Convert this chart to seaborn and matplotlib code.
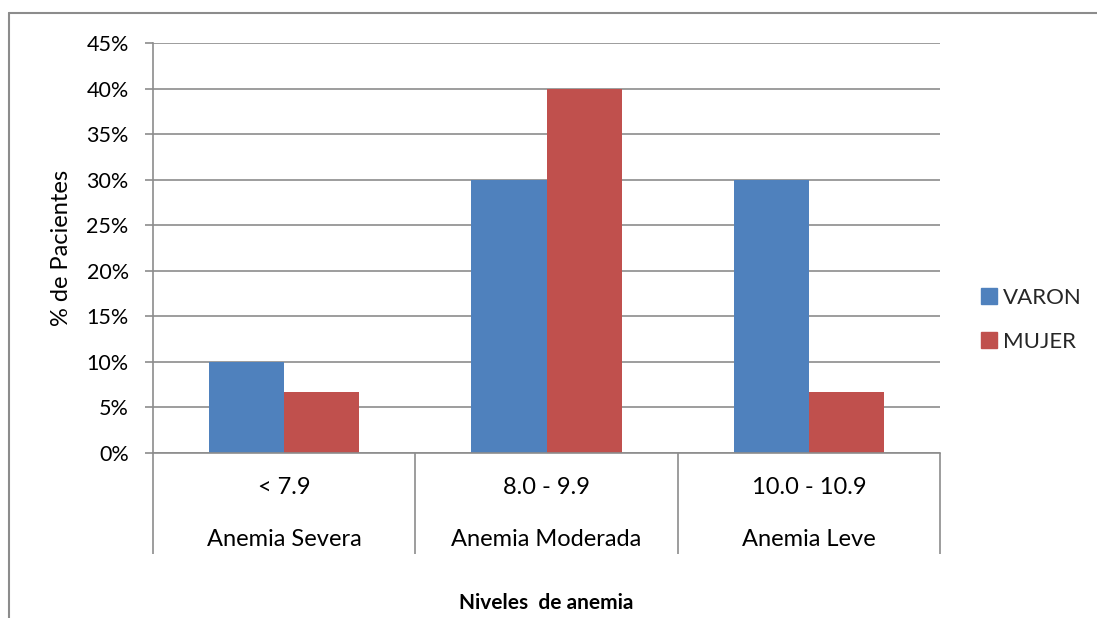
import matplotlib
matplotlib.use("Agg")
import matplotlib.pyplot as plt
import matplotlib.transforms as mtransforms
from matplotlib.lines import Line2D
import seaborn as sns
import pandas as pd

# Data
rangos = ["< 7.9", "8.0 - 9.9", "10.0 - 10.9"]
niveles = ["Anemia Severa", "Anemia Moderada", "Anemia Leve"]
series = ["VARON", "MUJER"]
varon = [10.0, 30.0, 30.0]
mujer = [6.67, 40.0, 6.67]
yticks = [0, 5, 10, 15, 20, 25, 30, 35, 40, 45]

colors = {"VARON": "#4F81BD", "MUJER": "#C0504D"}

df = pd.DataFrame({
    "cat": rangos * 2,
    "serie": ["VARON"] * 3 + ["MUJER"] * 3,
    "val": varon + mujer,
})

sns.set_theme(style="white")
plt.rcParams["font.family"] = ["Lato", "DejaVu Sans"]

W, H = 1097, 618
fig = plt.figure(figsize=(W / 100, H / 100), dpi=100)
ax = fig.add_axes([153 / W, 1 - 453 / H, (940 - 153) / W, (453 - 43) / H])

sns.barplot(data=df, x="cat", y="val", hue="serie", order=rangos,
            hue_order=series, palette=colors, width=0.572, gap=0,
            saturation=1, ax=ax, legend=False, edgecolor="none")

grid_c = "#8C8C8C"
fs = 17
ax.set_ylim(0, 45)
ax.set_xlim(-0.5, 2.5)
ax.set_yticks(yticks)
ax.set_yticklabels([f"{v}%" for v in yticks], fontsize=15.5, color="black")
ax.yaxis.grid(True, color=grid_c, linewidth=1.2)
ax.set_axisbelow(True)
for s in ["top", "right"]:
    ax.spines[s].set_visible(False)
for s in ["left", "bottom"]:
    ax.spines[s].set_color(grid_c)
    ax.spines[s].set_linewidth(1.2)
ax.tick_params(axis="y", which="major", left=True, length=5.5, width=1.2,
               color=grid_c, pad=12)

# x axis: separators as minor ticks
ax.set_xticks([])
ax.set_xticks([-0.5, 0.5, 1.5, 2.5], minor=True)
ax.tick_params(axis="x", which="minor", bottom=True, length=73, width=1.2,
               color=grid_c)
ax.set_xlabel("")
ax.set_ylabel("% de Pacientes", fontsize=fs, color="black")
ax.yaxis.set_label_coords((72 - 153) / (940 - 153), 0.5)

trans = mtransforms.blended_transform_factory(ax.transData, fig.transFigure)
for i, (r, n) in enumerate(zip(rangos, niveles)):
    ax.text(i, 1 - 488 / H, r, transform=trans, ha="center", va="center",
            fontsize=fs, color="black")
    ax.text(i, 1 - 540 / H, n, transform=trans, ha="center", va="center",
            fontsize=fs, color="black")

fig.text((153 + 940) / 2 / W, 1 - 603 / H, "Niveles  de anemia",
         ha="center", va="center", fontsize=15, fontweight="bold", color="black")

# legend
lfs = 16
handles = [Line2D([0], [0], marker="s", linestyle="none", markersize=11,
                  markerfacecolor=colors[s], markeredgecolor=colors[s]) for s in series]
fig.legend(handles, series, loc="center left",
           bbox_to_anchor=(958 / W, 1 - 320 / H), frameon=False, fontsize=lfs,
           handletextpad=0.11, labelspacing=1.07, handlelength=1.0)

# chart border
fig.add_artist(Line2D([9 / W, 1.0], [1 - 13 / H, 1 - 13 / H], transform=fig.transFigure,
                      color="#8C8C8C", linewidth=1.5))
fig.add_artist(Line2D([9 / W, 9 / W], [1 - 13 / H, 0], transform=fig.transFigure,
                      color="#8C8C8C", linewidth=1.5))

fig.savefig("out.png", dpi=100, facecolor="white")
